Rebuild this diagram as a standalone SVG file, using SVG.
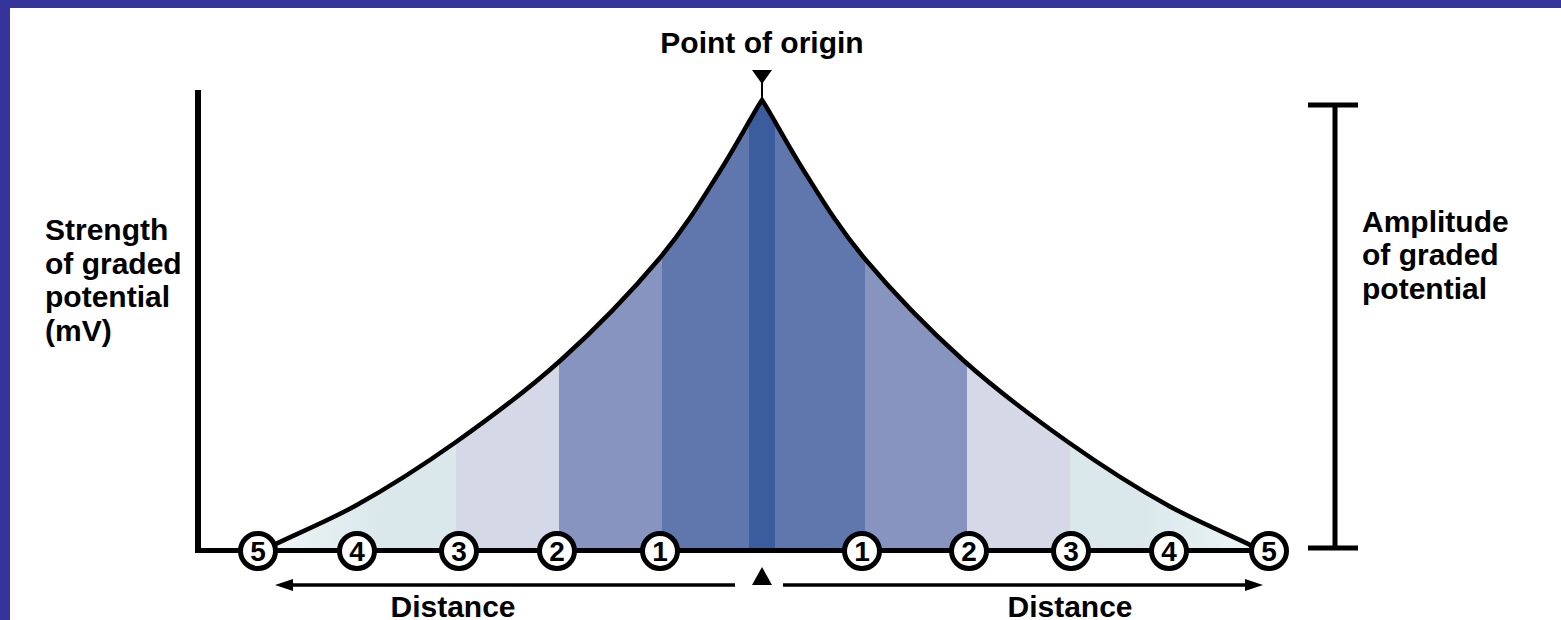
<svg xmlns="http://www.w3.org/2000/svg" width="1561" height="620" viewBox="0 0 1561 620">
  <style>
    .lbl { font-family: "Liberation Sans", Arial, sans-serif; font-weight: bold; font-size: 30px; fill: #000; }
    .num { font-family: "Liberation Sans", Arial, sans-serif; font-weight: bold; font-size: 28px; fill: #000; text-anchor: middle; }
    .mk { fill: #fff; stroke: #000; stroke-width: 5; }
    .ln { stroke: #000; fill: none; }
  </style>
  <defs>
    <clipPath id="area">
      <path d="M262,551 C277.5,541.8 322.7,523.8 355,506 C387.3,488.2 421.7,466.3 456,442 C490.3,417.7 527.2,390.5 561,360 C594.8,329.5 632.5,290.5 659,259 C685.5,227.5 702.8,198.3 720,171 C737.2,143.7 755,110 762,100 C769,110 786.8,143.7 804,171 C821.2,198.3 838.5,227.5 865,259 C891.5,290.5 929.2,329.5 963,360 C996.8,390.5 1033.7,417.7 1068,442 C1102.3,466.3 1136.7,488.2 1169,506 C1201.3,523.8 1246.5,541.8 1262,551 Z"/>
    </clipPath>
    <linearGradient id="gl" gradientUnits="userSpaceOnUse" x1="262" y1="0" x2="380" y2="0">
      <stop offset="0" stop-color="#eef5f7"/>
      <stop offset="1" stop-color="#dae8ec"/>
    </linearGradient>
    <linearGradient id="gr" gradientUnits="userSpaceOnUse" x1="1262" y1="0" x2="1144" y2="0">
      <stop offset="0" stop-color="#eef5f7"/>
      <stop offset="1" stop-color="#dae8ec"/>
    </linearGradient>
    <marker id="ah" markerUnits="userSpaceOnUse" viewBox="0 0 18 12" refX="0" refY="6" markerWidth="18" markerHeight="12" orient="auto-start-reverse">
      <path d="M0,0 L18,6 L0,12 Z" fill="#000"/>
    </marker>
  </defs>

  <rect x="0" y="0" width="1561" height="620" fill="#fff"/>
  <rect x="0" y="0" width="1561" height="8" fill="#34349a"/>
  <rect x="0" y="0" width="10" height="620" fill="#34349a"/>

  <g id="bands" clip-path="url(#area)">
    <rect x="250" y="90" width="206" height="470" fill="url(#gl)"/>
    <rect x="456" y="90" width="103" height="470" fill="#d5d8e7"/>
    <rect x="559" y="90" width="103" height="470" fill="#8794bf"/>
    <rect x="662" y="90" width="87" height="470" fill="#6077ae"/>
    <rect x="749" y="90" width="26" height="470" fill="#3b5c9d"/>
    <rect x="775" y="90" width="90" height="470" fill="#6077ae"/>
    <rect x="865" y="90" width="102" height="470" fill="#8794bf"/>
    <rect x="967" y="90" width="103" height="470" fill="#d5d8e7"/>
    <rect x="1070" y="90" width="210" height="470" fill="url(#gr)"/>
  </g>

  <g id="curve">
    <path class="ln" stroke-width="4.5" stroke-linejoin="miter" stroke-miterlimit="8" d="M262,551 C277.5,541.8 322.7,523.8 355,506 C387.3,488.2 421.7,466.3 456,442 C490.3,417.7 527.2,390.5 561,360 C594.8,329.5 632.5,290.5 659,259 C685.5,227.5 702.8,198.3 720,171 C737.2,143.7 755,110 762,100 C769,110 786.8,143.7 804,171 C821.2,198.3 838.5,227.5 865,259 C891.5,290.5 929.2,329.5 963,360 C996.8,390.5 1033.7,417.7 1068,442 C1102.3,466.3 1136.7,488.2 1169,506 C1201.3,523.8 1246.5,541.8 1262,551"/>
  </g>

  <g id="axes">
    <line class="ln" x1="198" y1="90" x2="198" y2="553" stroke-width="6"/>
    <line class="ln" x1="195" y1="550.5" x2="1270" y2="550.5" stroke-width="5"/>
  </g>

  <g id="amplitude-bar">
    <line class="ln" x1="1335" y1="105" x2="1335" y2="548" stroke-width="5"/>
    <line class="ln" x1="1308" y1="105" x2="1358" y2="105" stroke-width="5"/>
    <line class="ln" x1="1308" y1="548" x2="1358" y2="548" stroke-width="5"/>
  </g>

  <g id="origin-markers">
    <polygon points="752,70 772,70 762,84" fill="#000"/>
    <line class="ln" x1="762" y1="82" x2="762" y2="98" stroke-width="2" stroke="#555"/>
    <polygon points="762,567 752,585 772,585" fill="#000"/>
  </g>

  <g id="connectors">
    <line class="ln" x1="293" y1="585" x2="735" y2="585" stroke-width="3.5" marker-start="url(#ah)"/>
    <line class="ln" x1="783" y1="585" x2="1245" y2="585" stroke-width="3.5" marker-end="url(#ah)"/>
  </g>

  <g id="L5"><circle class="mk" cx="258" cy="551" r="17.5"/><text class="num" x="258" y="561">5</text></g>
  <g id="L4"><circle class="mk" cx="357" cy="551" r="17.5"/><text class="num" x="357" y="561">4</text></g>
  <g id="L3"><circle class="mk" cx="459" cy="551" r="17.5"/><text class="num" x="459" y="561">3</text></g>
  <g id="L2"><circle class="mk" cx="557" cy="551" r="17.5"/><text class="num" x="557" y="561">2</text></g>
  <g id="L1"><circle class="mk" cx="660" cy="551" r="17.5"/><text class="num" x="660" y="561">1</text></g>
  <g id="R1"><circle class="mk" cx="862" cy="551" r="17.5"/><text class="num" x="862" y="561">1</text></g>
  <g id="R2"><circle class="mk" cx="969" cy="551" r="17.5"/><text class="num" x="969" y="561">2</text></g>
  <g id="R3"><circle class="mk" cx="1071" cy="551" r="17.5"/><text class="num" x="1071" y="561">3</text></g>
  <g id="R4"><circle class="mk" cx="1169" cy="551" r="17.5"/><text class="num" x="1169" y="561">4</text></g>
  <g id="R5"><circle class="mk" cx="1269" cy="551" r="17.5"/><text class="num" x="1269" y="561">5</text></g>

  <g id="labels">
    <text class="lbl" x="762" y="53" text-anchor="middle">Point of origin</text>
    <text class="lbl" x="45" y="240">Strength</text>
    <text class="lbl" x="45" y="273.5">of graded</text>
    <text class="lbl" x="45" y="307">potential</text>
    <text class="lbl" x="45" y="341">(mV)</text>
    <text class="lbl" x="1362" y="232">Amplitude</text>
    <text class="lbl" x="1362" y="265">of graded</text>
    <text class="lbl" x="1362" y="298.5">potential</text>
    <text class="lbl" x="453" y="617" text-anchor="middle">Distance</text>
    <text class="lbl" x="1070" y="617" text-anchor="middle">Distance</text>
  </g>
</svg>
